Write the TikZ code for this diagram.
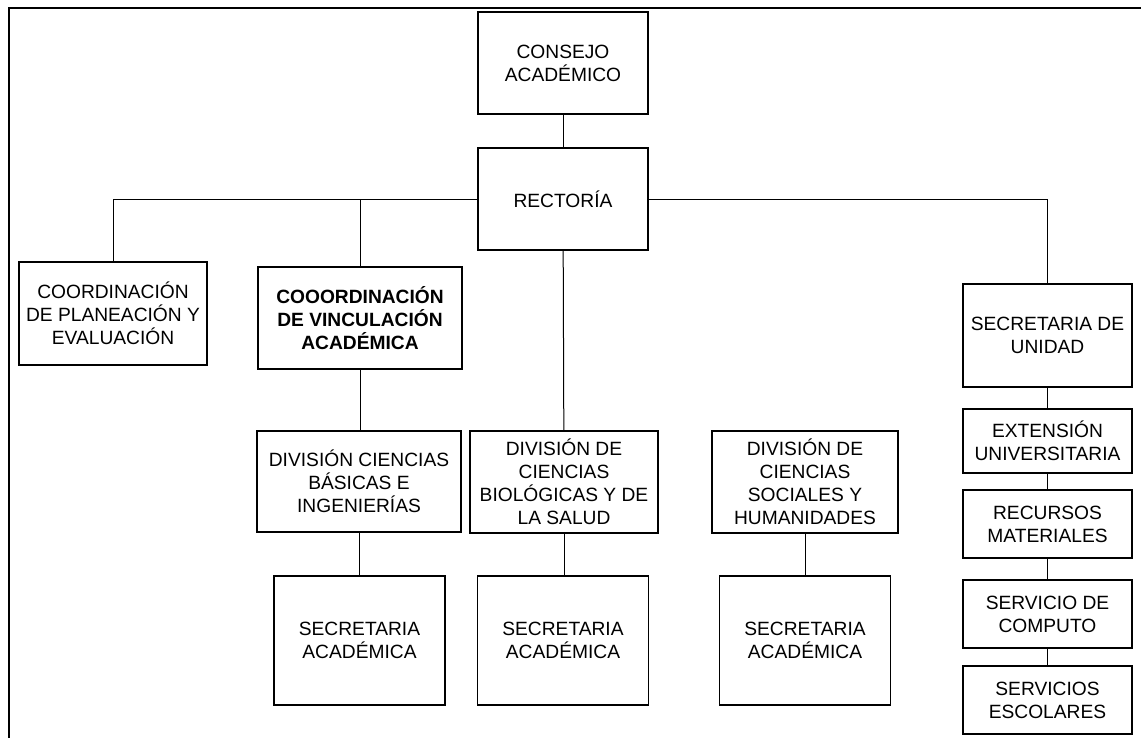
\documentclass[tikz,border=0pt]{standalone}
\usepackage{fontspec}
\setmainfont{Liberation Sans}
\begin{document}
\begin{tikzpicture}[x=0.75pt, y=-0.75pt,
  unit/.style 2 args={draw, line width=0.8pt, inner sep=0pt, align=center,
    minimum width=#1*0.75pt, minimum height=#2*0.75pt,
    font=\fontsize{14.4}{17.25}\selectfont},
  link/.style={line width=0.75pt},
  frame/.style={line width=2pt}]
\useasboundingbox (0,0) rectangle (1141,738);
\draw[frame] (9,738) -- (9,8) -- (1141,8);

% top of the hierarchy
\node[unit={170}{102}] (cons) at (563,63) {CONSEJO\\ACADÉMICO};
\node[unit={170}{102}] (rect) at (563,199) {RECTORÍA};

% coordinations
\node[unit={188}{103}] (plan) at (113,313.5) {COORDINACIÓN\\DE PLANEACIÓN Y\\EVALUACIÓN};
\node[unit={204}{102}, font=\fontsize{14.4}{17.25}\selectfont\bfseries] (vinc) at (360,318) {COOORDINACIÓN\\DE VINCULACIÓN\\ACADÉMICA};

% divisions
\node[unit={204}{101}] (bas) at (359,481.5) {DIVISIÓN CIENCIAS\\BÁSICAS E\\INGENIERÍAS};
\node[unit={188}{102}] (bio) at (564,482) {DIVISIÓN DE\\CIENCIAS\\BIOLÓGICAS Y DE\\LA SALUD};
\node[unit={186}{102}] (soc) at (805,482) {DIVISIÓN DE\\CIENCIAS\\SOCIALES Y\\HUMANIDADES};

% academic secretariats
\node[unit={171}{129}] (sa1) at (359.5,640.5) {SECRETARIA\\ACADÉMICA};
\node[unit={171}{129}] (sa2) at (563,640.5) {SECRETARIA\\ACADÉMICA};
\node[unit={171}{129}] (sa3) at (805,640.5) {SECRETARIA\\ACADÉMICA};

% unit secretariat column
\node[unit={169}{103}] (secu) at (1047.5,335.5) {SECRETARIA DE\\UNIDAD};
\node[unit={169}{64}] (ext) at (1047.5,441) {EXTENSIÓN\\UNIVERSITARIA};
\node[unit={169}{68}] (rec) at (1047.5,524) {RECURSOS\\MATERIALES};
\node[unit={169}{68}] (comp) at (1047.5,614) {SERVICIO DE\\COMPUTO};
\node[unit={169}{68}] (esc) at (1047.5,700) {SERVICIOS\\ESCOLARES};

% connectors
\draw[link] (cons) -- (rect);
\draw[link] (rect.west) -| (plan.north);
\draw[link] (rect.west) -| (vinc.north);
\draw[link] (rect.east) -| (secu.north);
\draw[link] (rect) -- (bio);
\draw[link] (vinc.south) -- (vinc.south |- bas.north);
\draw[link] (bas.south) -- (bas.south |- sa1.north);
\draw[link] (bio.south) -- (bio.south |- sa2.north);
\draw[link] (soc) -- (sa3);
\draw[link] (secu) -- (ext);
\draw[link] (ext) -- (rec);
\draw[link] (rec) -- (comp);
\draw[link] (comp) -- (esc);
\end{tikzpicture}
\end{document}
